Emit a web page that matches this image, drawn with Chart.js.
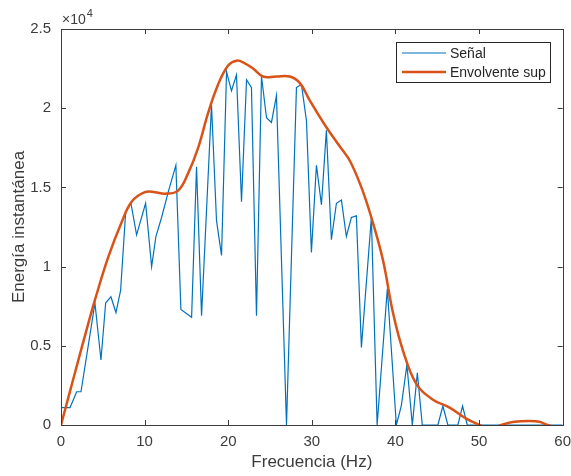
<!DOCTYPE html>
<html>
<head>
<meta charset="utf-8">
<script src="https://cdn.jsdelivr.net/npm/chart.js@4/dist/chart.umd.min.js"></script>
<style>
  html, body { margin: 0; padding: 0; background: #fff; }
  #wrap { width: 571px; height: 476px; position: relative; }
</style>
</head>
<body>
<div id="wrap"><canvas id="chart" width="571" height="476"></canvas></div>
<script>
// Signal (x: Hz, y: energy in units of 1e4)
const signalFreq = [0, 1.08, 1.88, 2.39, 4.06, 4.78, 5.34, 5.97, 6.57, 7.13, 7.73, 8.36, 9.04, 10.12,
  10.84, 11.35, 12.03, 12.82, 13.74, 14.34, 15.62, 16.21, 16.81, 18.0, 18.6, 19.2, 19.8, 20.39, 20.99,
  21.59, 22.19, 22.78, 23.38, 23.98, 24.58, 25.17, 25.77, 26.97, 28.16, 28.76, 29.36, 29.95, 30.55,
  31.15, 31.74, 32.34, 32.94, 33.54, 34.13, 34.73, 35.33, 35.93, 37.12, 37.81, 39.03, 40.11, 40.7,
  41.37, 42.02, 42.62, 43.21, 45.08, 45.67, 46.27, 47.47, 48.03, 48.59, 60]
const signal = [0.11, 0.11, 0.21, 0.21, 0.77, 0.41, 0.77, 0.81, 0.71, 0.85, 1.34, 1.40, 1.20, 1.40,
  1.00, 1.19, 1.31, 1.47, 1.64, 0.73, 0.68, 1.63, 0.69, 2.02, 1.29, 1.07, 2.23, 2.11, 2.21,
  1.41, 2.18, 2.13, 0.69, 2.20, 1.94, 1.91, 2.08, 0.0, 2.13, 2.15, 1.92, 1.09, 1.64,
  1.39, 1.86, 1.17, 1.40, 1.42, 1.19, 1.31, 1.32, 0.49, 1.31, 0.0, 0.86, 0.0, 0.12,
  0.38, 0.0, 0.33, 0.0, 0.0, 0.12, 0.0, 0.0, 0.12, 0.0, 0.0]

// Upper envelope
const envFreq = [0, 1.67, 3.26, 4.06, 5.65, 7.25, 8.45, 10.04, 11.23, 12.43, 14.01, 15.21, 16.4, 17.6,
  18.79, 19.99, 20.99, 21.78, 22.97, 24.17, 25.77, 27.36, 28.55, 29.75, 31.74, 33.33, 34.53, 35.93,
  37.12, 38.51, 39.7, 40.9, 42.5, 44.48, 46.48, 48.47, 50.06, 51.3, 52.65, 54.24, 56.03, 57.2, 58.2, 60]
const envelope = [0, 0.33, 0.64, 0.79, 1.06, 1.28, 1.41, 1.47, 1.47, 1.46, 1.48, 1.59, 1.75, 1.97,
  2.15, 2.27, 2.30, 2.29, 2.25, 2.20, 2.20, 2.20, 2.16, 2.05, 1.88, 1.76, 1.67, 1.50,
  1.31, 1.04, 0.71, 0.47, 0.26, 0.16, 0.11, 0.04, 0, -0.03, 0, 0.02, 0.025, 0.02, 0, -0.03]

const xTicks = [0, 10, 20, 30, 40, 50, 60]
const yTicks = [0, 0.5, 1, 1.5, 2, 2.5]

const axisColor = "#3c3c3c"
const font = "'Liberation Sans', Arial, sans-serif"

// Box, inward ticks, legend and exponent label (MATLAB look)
const matlabFrame = {
  id: "matlabFrame",
  afterDraw(chart) {
    const { ctx, chartArea: a, scales } = chart
    const x = scales.x
    const y = scales.y
    ctx.save()
    ctx.strokeStyle = axisColor
    ctx.lineWidth = 1
    ctx.strokeRect(Math.round(a.left) + 0.5, Math.round(a.top) + 0.5,
      Math.round(a.right - a.left), Math.round(a.bottom - a.top))

    ctx.beginPath()
    xTicks.forEach((t) => {
      const px = Math.round(x.getPixelForValue(t)) + 0.5
      ctx.moveTo(px, a.bottom); ctx.lineTo(px, a.bottom - 5)
      ctx.moveTo(px, a.top); ctx.lineTo(px, a.top + 5)
    })
    yTicks.forEach((t) => {
      const py = Math.round(y.getPixelForValue(t)) + 0.5
      ctx.moveTo(a.left, py); ctx.lineTo(a.left + 5, py)
      ctx.moveTo(a.right, py); ctx.lineTo(a.right - 5, py)
    })
    ctx.stroke()

    // exponent
    ctx.fillStyle = axisColor
    ctx.textBaseline = "alphabetic"
    ctx.font = "14px " + font
    ctx.fillText("\u00d710", a.left + 1, a.top - 5)
    const w = ctx.measureText("\u00d710").width
    ctx.font = "11px " + font
    ctx.fillText("4", a.left + 1 + w + 1, a.top - 12)

    // legend
    const lx = 396, ly = 42, lw = 154, lh = 40
    ctx.fillStyle = "#fff"
    ctx.fillRect(lx, ly, lw, lh)
    ctx.strokeStyle = "#262626"
    ctx.strokeRect(lx + 0.5, ly + 0.5, lw, lh)
    ctx.font = "14px " + font
    ctx.textBaseline = "middle"
    chart.data.datasets.forEach((ds, i) => {
      const yy = ly + 11 + i * 19
      ctx.strokeStyle = ds.borderColor
      ctx.lineWidth = ds.borderWidth
      ctx.beginPath()
      ctx.moveTo(lx + 6, yy); ctx.lineTo(lx + 50, yy)
      ctx.stroke()
      ctx.fillStyle = "#262626"
      ctx.fillText(ds.label, lx + 54, yy + 1)
    })
    ctx.restore()
  },
}

new Chart(document.getElementById("chart"), {
  type: "line",
  data: {
    datasets: [
      {
        label: "Señal",
        data: signalFreq.map((f, i) => ({ x: f, y: signal[i] })),
        borderColor: "#0072BD",
        borderWidth: 1.2,
        pointRadius: 0,
        tension: 0,
        order: 1,
      },
      {
        label: "Envolvente sup",
        data: envFreq.map((f, i) => ({ x: f, y: envelope[i] })),
        borderColor: "#D95319",
        borderWidth: 2.5,
        pointRadius: 0,
        tension: 0.4,
        order: 0,
      },
    ],
  },
  options: {
    responsive: false,
    animation: false,
    layout: { padding: { top: 29, right: 8, left: 0, bottom: 0 } },
    plugins: { legend: { display: false }, tooltip: { enabled: false } },
    scales: {
      x: {
        type: "linear",
        min: 0,
        max: 60,
        afterBuildTicks: (s) => { s.ticks = xTicks.map((v) => ({ value: v })) },
        afterFit: (s) => { s.height = 51 },
        grid: { display: false },
        border: { display: false },
        ticks: { color: axisColor, padding: 0, font: { family: font, size: 15 }, callback: (v) => String(v) },
        title: { display: true, text: "Frecuencia (Hz)", color: axisColor, padding: { top: 0, bottom: 3 }, font: { family: font, size: 17 } },
      },
      y: {
        min: 0,
        max: 2.5,
        afterBuildTicks: (s) => { s.ticks = yTicks.map((v) => ({ value: v })) },
        afterFit: (s) => { s.width = 61 },
        grid: { display: false },
        border: { display: false },
        ticks: { color: axisColor, padding: 2, font: { family: font, size: 15 }, callback: (v) => String(v) },
        title: { display: true, text: "Energía instantánea", color: axisColor, padding: { top: 9, bottom: 0 }, font: { family: font, size: 17 } },
      },
    },
  },
  plugins: [matlabFrame],
})
</script>
</body>
</html>
